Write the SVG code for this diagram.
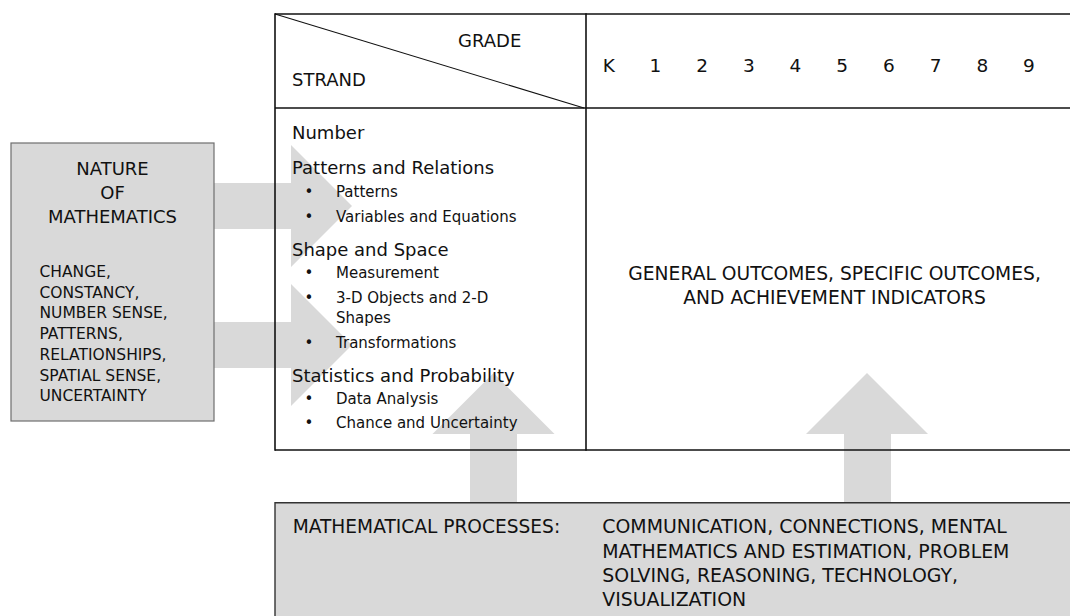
<svg xmlns="http://www.w3.org/2000/svg" width="1070" height="616" viewBox="0 0 1070 616">
<style>
text{font-family:"DejaVu Sans",Verdana,"Liberation Sans",sans-serif;fill:#111}
.arrow{fill:#d9d9d9;stroke:none}
.tl{stroke:#111;stroke-width:1.6;fill:none}
.h{font-size:18px}
.b{font-size:15px}
.d{font-size:18.5px;text-anchor:middle}
.c{font-size:15.5px}
.m{font-size:18.6px}
.p{font-size:18.9px}
</style>
<rect width="1070" height="616" fill="#fff"/>
<g id="connectors">
<path class="arrow" d="M214,183 H291 V145 L352,206 L291,267 V229 H214 Z"/>
<path class="arrow" d="M214,322 H291 V284 L352,345 L291,406 V368 H214 Z"/>
<path class="arrow" d="M470,503 V434 H432.5 L493.5,373 L554.5,434 H517 V503 Z"/>
<path class="arrow" d="M844,503 V434 H806 L867,373 L928,434 H891 V503 Z"/>
</g>
<g id="nature">
<rect x="11" y="143" width="203" height="278" fill="#d9d9d9" stroke="#6e6e6e" stroke-width="1.2"/>
<text class="h" x="112.5" y="175" text-anchor="middle">NATURE</text>
<text class="h" x="112.5" y="199" text-anchor="middle">OF</text>
<text class="h" x="112.5" y="223" text-anchor="middle">MATHEMATICS</text>
<text class="c" x="39.5" y="277">CHANGE,</text>
<text class="c" x="39.5" y="297.7">CONSTANCY,</text>
<text class="c" x="39.5" y="318.4">NUMBER SENSE,</text>
<text class="c" x="39.5" y="339.1">PATTERNS,</text>
<text class="c" x="39.5" y="359.8">RELATIONSHIPS,</text>
<text class="c" x="39.5" y="380.5">SPATIAL SENSE,</text>
<text class="c" x="39.5" y="401.2">UNCERTAINTY</text>
</g>
<g id="table">
<line class="tl" x1="275" y1="14" x2="1070" y2="14"/>
<line class="tl" x1="275" y1="108" x2="1070" y2="108"/>
<line class="tl" x1="275" y1="450" x2="1070" y2="450"/>
<line class="tl" x1="275" y1="13.2" x2="275" y2="450.8"/>
<line class="tl" x1="586" y1="13.2" x2="586" y2="450.8"/>
<line x1="275" y1="14" x2="584" y2="108" stroke="#111" stroke-width="1.1"/>
<text class="h" x="458" y="47">GRADE</text>
<text class="h" x="292" y="86">STRAND</text>
<text class="d" x="608.7" y="72">K</text>
<text class="d" x="655.4" y="72">1</text>
<text class="d" x="702.1" y="72">2</text>
<text class="d" x="748.8" y="72">3</text>
<text class="d" x="795.5" y="72">4</text>
<text class="d" x="842.2" y="72">5</text>
<text class="d" x="888.9" y="72">6</text>
<text class="d" x="935.6" y="72">7</text>
<text class="d" x="982.3" y="72">8</text>
<text class="d" x="1029" y="72">9</text>
</g>
<g id="strands">
<text class="h" x="292" y="139">Number</text>
<text class="h" x="292" y="174">Patterns and Relations</text>
<text class="b" x="309" y="197" text-anchor="middle">•</text>
<text class="b" x="336" y="197">Patterns</text>
<text class="b" x="309" y="222" text-anchor="middle">•</text>
<text class="b" x="336" y="222">Variables and Equations</text>
<text class="h" x="292" y="256">Shape and Space</text>
<text class="b" x="309" y="278" text-anchor="middle">•</text>
<text class="b" x="336" y="278">Measurement</text>
<text class="b" x="309" y="303" text-anchor="middle">•</text>
<text class="b" x="336" y="303">3-D Objects and 2-D</text>
<text class="b" x="336" y="323">Shapes</text>
<text class="b" x="309" y="348" text-anchor="middle">•</text>
<text class="b" x="336" y="348">Transformations</text>
<text class="h" x="292" y="382">Statistics and Probability</text>
<text class="b" x="309" y="404" text-anchor="middle">•</text>
<text class="b" x="336" y="404">Data Analysis</text>
<text class="b" x="309" y="428" text-anchor="middle">•</text>
<text class="b" x="336" y="428">Chance and Uncertainty</text>
</g>
<g id="outcomes">
<text x="834.6" y="280" text-anchor="middle" style="font-size:18.7px">GENERAL OUTCOMES, SPECIFIC OUTCOMES,</text>
<text x="834.6" y="304" text-anchor="middle" style="font-size:18.7px">AND ACHIEVEMENT INDICATORS</text>
</g>
<g id="processes">
<rect x="275" y="502.7" width="800" height="120" fill="#d9d9d9"/>
<path d="M275,620 V502.7 H1070" fill="none" stroke="#333" stroke-width="1.4"/>
<text class="m" x="292.7" y="533.3">MATHEMATICAL PROCESSES:</text>
<text class="p" x="602.3" y="533.3">COMMUNICATION, CONNECTIONS, MENTAL</text>
<text class="p" x="602.3" y="557.6">MATHEMATICS AND ESTIMATION, PROBLEM</text>
<text class="p" x="602.3" y="581.9">SOLVING, REASONING, TECHNOLOGY,</text>
<text class="p" x="602.3" y="606.2">VISUALIZATION</text>
</g>
</svg>
